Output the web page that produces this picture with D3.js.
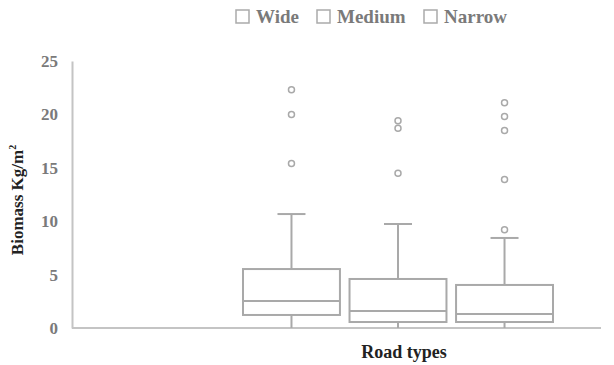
<!DOCTYPE html>
<html><head><meta charset="utf-8">
<script src="https://cdn.jsdelivr.net/npm/d3@7"></script>
<style>body{margin:0;background:#fff}svg{display:block}
text{font-family:"Liberation Serif","Times New Roman","DejaVu Serif",serif;font-weight:bold}</style>
</head><body>
<svg id="c" width="614" height="365"></svg>
<script>
const series = ["Wide", "Medium", "Narrow"];
const minVals = [0, 0, 0];
const q1Vals = [1.22, 0.56, 0.56];
const medianVals = [2.53, 1.6, 1.31];
const q3Vals = [5.52, 4.59, 4.03];
const maxVals = [10.67, 9.74, 8.43];
const outliers = [[22.3, 20.0, 15.4], [19.4, 18.7, 14.5], [21.1, 19.8, 18.5, 13.9, 9.2]];
const yTicks = [0, 5, 10, 15, 20, 25];
const xTitle = "Road types";

const svg = d3.select("#c");
const grey = "#a9a9a9";
const font = '"Liberation Serif","Times New Roman","DejaVu Serif",serif';

const y = d3.scaleLinear().domain([0, 25]).range([328, 61]);
const x = d3.scaleBand().domain(series).range([243, 553]).paddingInner(0.09);

// axes
const yAxis = d3.axisLeft(y).tickValues(yTicks).tickSize(0).tickPadding(14);
const gy = svg.append("g").attr("transform", "translate(72,0)").call(yAxis);
gy.select(".domain").attr("stroke", "#c4c4c4").attr("stroke-width", 2);
gy.selectAll("text").style("font-family", font).style("font-weight", "bold")
  .style("font-size", "17px").attr("fill", "#7a7a7a");

svg.append("line").attr("x1", 72).attr("x2", 601).attr("y1", y(0)).attr("y2", y(0))
  .attr("stroke", "#c4c4c4").attr("stroke-width", 2);

// boxes
const data = series.map((s, i) => ({s, min: minVals[i], q1: q1Vals[i], med: medianVals[i], q3: q3Vals[i], max: maxVals[i], out: outliers[i]}));
const g = svg.append("g");
data.forEach(d => {
  const x0 = x(d.s), w = x.bandwidth(), cx = x0 + w / 2;
  g.append("line").attr("x1", cx).attr("x2", cx).attr("y1", y(d.max)).attr("y2", y(d.q3))
    .attr("stroke", grey).attr("stroke-width", 2);
  g.append("line").attr("x1", cx).attr("x2", cx).attr("y1", y(d.q1)).attr("y2", y(d.min))
    .attr("stroke", grey).attr("stroke-width", 2);
  g.append("line").attr("x1", cx - 14).attr("x2", cx + 14).attr("y1", y(d.max)).attr("y2", y(d.max))
    .attr("stroke", grey).attr("stroke-width", 2);
  g.append("rect").attr("x", x0).attr("width", w).attr("y", y(d.q3)).attr("height", y(d.q1) - y(d.q3))
    .attr("fill", "#fff").attr("stroke", grey).attr("stroke-width", 2);
  g.append("line").attr("x1", x0).attr("x2", x0 + w).attr("y1", y(d.med)).attr("y2", y(d.med))
    .attr("stroke", grey).attr("stroke-width", 2);
  d.out.forEach(o => {
    g.append("circle").attr("cx", cx).attr("cy", y(o)).attr("r", 3)
      .attr("fill", "none").attr("stroke", grey).attr("stroke-width", 1.5);
  });
});

// legend
const legendX = [236, 317, 424];
const lg = svg.append("g");
series.forEach((s, i) => {
  lg.append("rect").attr("x", legendX[i]).attr("y", 10).attr("width", 13).attr("height", 13)
    .attr("fill", "#fff").attr("stroke", "#aaa").attr("stroke-width", 1.5);
  lg.append("text").attr("x", legendX[i] + 20).attr("y", 23).text(s)
    .style("font-size", "19px").attr("fill", "#7a7a7a");
});

// titles
svg.append("text").attr("x", 404).attr("y", 358).attr("text-anchor", "middle").text(xTitle)
  .style("font-size", "18px").attr("fill", "#222");

const yt = svg.append("text").attr("transform", "translate(23,200) rotate(-90)").attr("text-anchor", "middle")
  .style("font-size", "17px").attr("fill", "#222");
yt.append("tspan").text("Biomass Kg/m");
yt.append("tspan").attr("dy", -7).style("font-size", "10px").text("2");
</script>
</body></html>
